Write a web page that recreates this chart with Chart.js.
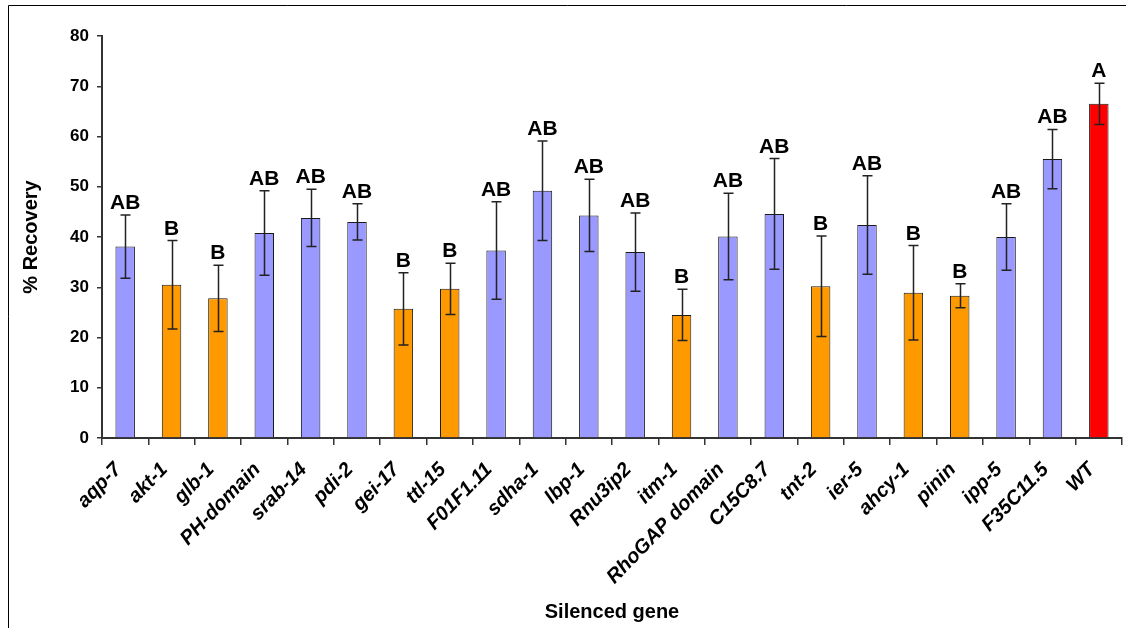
<!DOCTYPE html>
<html>
<head>
<meta charset="utf-8">
<title>% Recovery by silenced gene</title>
<script src="https://cdn.jsdelivr.net/npm/chart.js@4.4.1/dist/chart.umd.min.js"></script>
<style>
  html, body { margin: 0; padding: 0; background: #fff; overflow: hidden; }
  #chart { display: block; }
</style>
</head>
<body>
<canvas id="chart" width="1126" height="628"></canvas>
<script>
const genes = ['aqp-7', 'akt-1', 'glb-1', 'PH-domain', 'srab-14', 'pdi-2', 'gei-17', 'ttl-15',
  'F01F1.11', 'sdha-1', 'lbp-1', 'Rnu3ip2', 'itm-1', 'RhoGAP domain', 'C15C8.7', 'tnt-2',
  'ier-5', 'ahcy-1', 'pinin', 'ipp-5', 'F35C11.5', 'WT'];
const recovery = [38.1, 30.5, 27.8, 40.8, 43.8, 43.0, 25.7, 29.7, 37.3, 49.2, 44.3,
  37.0, 24.5, 40.1, 44.6, 30.2, 42.4, 28.9, 28.3, 40.0, 55.5, 66.5];
const errors = [6.3, 8.8, 6.6, 8.4, 5.7, 3.6, 7.2, 5.1, 9.7, 9.9, 7.2,
  7.8, 5.1, 8.6, 11.0, 10.0, 9.8, 9.4, 2.4, 6.6, 5.9, 4.1];
const groups = ['AB', 'B', 'B', 'AB', 'AB', 'AB', 'B', 'B', 'AB', 'AB', 'AB',
  'AB', 'B', 'AB', 'AB', 'B', 'AB', 'B', 'B', 'AB', 'AB', 'A'];
const yTicks = [0, 10, 20, 30, 40, 50, 60, 70, 80];

const groupColors = { 'AB': '#9999ff', 'B': '#ff9900', 'A': '#ff0000' };
const FONT = "'Liberation Sans', Arial, sans-serif";
const AXIS = '#333333';

// white page and the thin frame round the figure
const framePlugin = {
  id: 'frame',
  beforeDraw(chart) {
    const ctx = chart.ctx;
    ctx.save();
    ctx.fillStyle = '#fff';
    ctx.fillRect(0, 0, chart.width, chart.height);
    ctx.strokeStyle = '#000';
    ctx.lineWidth = 1;
    ctx.beginPath();
    ctx.moveTo(8.5, chart.height);
    ctx.lineTo(8.5, 5.5);
    ctx.lineTo(chart.width, 5.5);
    ctx.stroke();
    ctx.restore();
  }
};

// error bars and the significance letters above them
const errorBarPlugin = {
  id: 'errorBars',
  afterDatasetsDraw(chart) {
    const ctx = chart.ctx;
    const y = chart.scales.y;
    const meta = chart.getDatasetMeta(0);
    ctx.save();
    ctx.strokeStyle = '#222';
    ctx.lineWidth = 1.5;
    ctx.fillStyle = '#000';
    ctx.font = 'bold 21px ' + FONT;
    ctx.textAlign = 'center';
    ctx.textBaseline = 'alphabetic';
    meta.data.forEach((bar, i) => {
      const x = Math.round(bar.x) + 0.5;
      const top = y.getPixelForValue(recovery[i] + errors[i]);
      const bot = y.getPixelForValue(recovery[i] - errors[i]);
      ctx.beginPath();
      ctx.moveTo(x, top);
      ctx.lineTo(x, bot);
      ctx.moveTo(x - 5, top);
      ctx.lineTo(x + 5, top);
      ctx.moveTo(x - 5, bot);
      ctx.lineTo(x + 5, bot);
      ctx.stroke();
      ctx.fillText(groups[i], bar.x, top - 6);
    });
    ctx.restore();
  }
};

new Chart(document.getElementById('chart'), {
  type: 'bar',
  data: {
    labels: genes,
    datasets: [{
      data: recovery,
      backgroundColor: groups.map(g => groupColors[g]),
      borderColor: '#1a1a1a',
      borderWidth: 1,
      barPercentage: 0.42,
      categoryPercentage: 1.0
    }]
  },
  options: {
    responsive: false,
    animation: false,
    devicePixelRatio: 1,
    layout: { padding: { top: 36, right: 4, left: 0, bottom: 0 } },
    plugins: {
      legend: { display: false },
      tooltip: { enabled: false }
    },
    scales: {
      x: {
        afterFit(scale) {
          scale.height = 190;
          scale.paddingLeft = 0;
          scale.paddingRight = 0;
        },
        grid: { drawOnChartArea: false, drawTicks: true, tickLength: 7, color: AXIS, lineWidth: 1.5, offset: true },
        border: { color: AXIS, width: 2 },
        ticks: {
          autoSkip: false,
          minRotation: 46,
          maxRotation: 46,
          padding: 13,
          labelOffset: -7,
          color: '#000',
          font: { family: FONT, size: 20, weight: 'bold', style: 'italic' }
        },
        title: {
          display: true,
          text: 'Silenced gene',
          color: '#000',
          padding: { top: 0, bottom: 4 },
          font: { family: FONT, size: 20, weight: 'bold' }
        }
      },
      y: {
        min: 0,
        max: 80,
        afterFit(scale) { scale.width = 102; },
        afterBuildTicks(scale) { scale.ticks = yTicks.map(v => ({ value: v })); },
        grid: { drawOnChartArea: false, drawTicks: true, tickLength: 5, color: AXIS, lineWidth: 1.5 },
        border: { color: AXIS, width: 2 },
        ticks: {
          padding: 8,
          color: '#000',
          font: { family: FONT, size: 17, weight: 'bold' }
        },
        title: {
          display: true,
          text: '% Recovery',
          color: '#000',
          padding: { top: 19, bottom: 0 },
          font: { family: FONT, size: 20, weight: 'bold' }
        }
      }
    }
  },
  plugins: [framePlugin, errorBarPlugin]
});
</script>
</body>
</html>
